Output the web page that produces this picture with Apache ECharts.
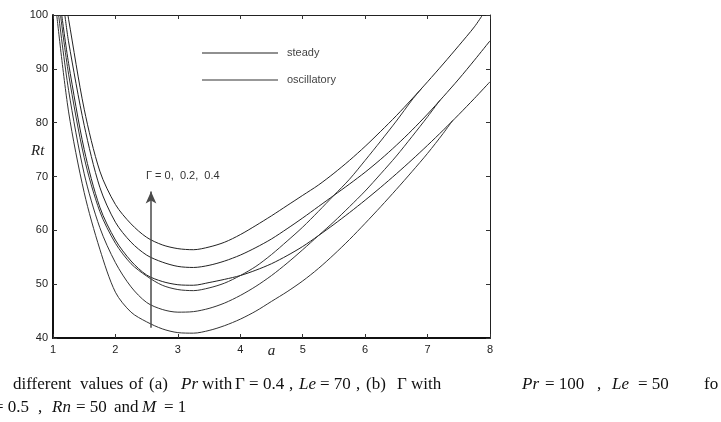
<!DOCTYPE html>
<html>
<head>
<meta charset="utf-8">
<script src="https://cdn.jsdelivr.net/npm/echarts@6/dist/echarts.min.js"></script>
<style>
html, body { margin: 0; padding: 0; background: #fff; }
#chart { width: 721px; height: 422px; }
</style>
</head>
<body>
<div id="chart"></div>
<script>
// wave number a and thermal Rayleigh number Rt
// steady curves (Gamma = 0.4, 0.2, 0)
const steady1 = [[1.24,100],[1.25,99.2],[1.5,82.5],[1.75,71],[2,64.8],[2.25,61.2],[2.5,58.7],[2.75,57.3],[3,56.6],[3.25,56.4],[3.5,56.9],[3.75,57.8],[4,59.2],[4.25,60.9],[4.5,62.7],[4.75,64.6],[5,66.5],[5.25,68.4],[5.5,70.6],[5.75,73],[6,75.6],[6.25,78.4],[6.5,81.3],[6.75,84.4],[7,87.6],[7.25,90.9],[7.5,94.3],[7.75,97.8],[7.88,100]];
const steady2 = [[1.19,100],[1.25,95],[1.5,79.5],[1.75,68],[2,61.5],[2.25,57.8],[2.5,55.4],[2.75,54.1],[3,53.3],[3.25,53.1],[3.5,53.5],[3.75,54.3],[4,55.4],[4.25,56.8],[4.5,58.4],[4.75,60.3],[5,62.3],[5.25,64.4],[5.5,66.5],[5.75,68.6],[6,70.8],[6.25,73.2],[6.5,75.8],[6.75,78.6],[7,81.6],[7.25,84.8],[7.5,88.1],[7.75,91.6],[8,95.2]];
const steady3 = [[1.14,100],[1.25,91],[1.5,75],[1.75,64.3],[2,58.2],[2.25,54.3],[2.5,51.7],[2.75,50.5],[3,49.9],[3.25,49.8],[3.5,50.3],[3.75,50.9],[4,51.6],[4.25,52.6],[4.5,53.8],[4.75,55.3],[5,57],[5.25,59],[5.5,61.1],[5.75,63.3],[6,65.6],[6.25,68],[6.5,70.5],[6.75,73.1],[7,75.8],[7.25,78.6],[7.5,81.5],[7.75,84.5],[8,87.6]];
// oscillatory curves
const osc1 = [[1.12,100],[1.25,89],[1.5,73.5],[1.75,63.5],[2,57.6],[2.25,53.8],[2.5,51.5],[2.75,49.8],[3,49],[3.25,48.8],[3.5,49.3],[3.75,50.2],[4,51.6],[4.25,53.3],[4.5,55.5],[4.75,58],[5,60.6],[5.25,63.5],[5.5,66.5],[5.75,69.5],[6,73],[6.25,76.6],[6.5,80.3],[6.75,84.2],[6.9,86.3]];
const osc2 = [[1.09,100],[1.25,86],[1.5,70.5],[1.75,60.5],[2,54],[2.25,49.5],[2.5,46.6],[2.75,45.3],[3,44.8],[3.25,44.9],[3.5,45.5],[3.75,46.5],[4,47.9],[4.25,49.6],[4.5,51.6],[4.75,53.9],[5,56.4],[5.25,59],[5.5,61.6],[5.75,64.4],[6,67.3],[6.25,70.5],[6.5,73.8],[6.75,77.4],[7,81.1],[7.2,84.2]];
const osc3 = [[1.06,100],[1.25,82],[1.5,67],[1.75,56.5],[2,48.5],[2.25,44.8],[2.5,43],[2.75,41.7],[3,41],[3.25,40.9],[3.5,41.4],[3.75,42.3],[4,43.5],[4.25,45],[4.5,46.8],[4.75,48.6],[5,50.6],[5.25,52.9],[5.5,55.5],[5.75,58.3],[6,61.3],[6.25,64.4],[6.5,67.6],[6.75,70.9],[7,74.3],[7.25,78],[7.4,80.4]];

const xTicks = [1, 2, 3, 4, 5, 6, 7, 8];
const yTicks = [40, 50, 60, 70, 80, 90, 100];
const arrowPts = [[2.57, 41.9], [2.57, 67.2]];

const myChart = echarts.init(document.getElementById('chart'));

function curve(name, data, color) {
    return {
        name: name,
        type: 'line',
        data: data,
        symbol: 'none',
        smooth: 0.3,
        clip: true,
        lineStyle: { color: color, width: 1 },
        itemStyle: { color: color }
    };
}

const series = [
    curve('steady', steady1, '#222'),
    curve('steady', steady2, '#222'),
    curve('steady', steady3, '#222'),
    curve('oscillatory', osc1, '#333'),
    curve('oscillatory', osc2, '#333'),
    curve('oscillatory', osc3, '#333')
];
// arrow showing increasing Gamma
series[0].markLine = {
    silent: true,
    symbol: ['none', 'arrow'],
    symbolSize: [8, 12],
    label: { show: false },
    lineStyle: { color: '#4a4a4a', width: 1.5, type: 'solid' },
    data: [[{ coord: arrowPts[0] }, { coord: arrowPts[1] }]]
};

const serif = '"Liberation Serif", "Times New Roman", serif';
function cap(text, left, top, italic) {
    return {
        type: 'text', left: left, top: top,
        style: { text: text, font: (italic ? 'italic ' : '') + '17px ' + serif, fill: '#111' }
    };
}

const option = {
    animation: false,
    backgroundColor: '#fff',
    textStyle: { fontFamily: 'Liberation Sans, Arial' },
    grid: { left: 53, top: 15, right: 231, bottom: 84 },
    legend: {
        data: [{ name: 'steady', icon: 'rect' }, { name: 'oscillatory', icon: 'rect' }],
        orient: 'vertical',
        left: 197,
        top: 42,
        itemWidth: 76,
        itemHeight: 1,
        itemGap: 15,
        selectedMode: false,
        textStyle: { fontSize: 11, color: '#444', padding: [0, 0, 0, 4], lineHeight: 12 }
    },
    xAxis: [{
        type: 'value',
        min: 1, max: 8, interval: 1,
        name: 'a',
        nameLocation: 'middle',
        nameGap: 6,
        nameMoveOverlap: false,
        nameTextStyle: { fontFamily: 'Liberation Serif', fontStyle: 'italic', fontSize: 15, color: '#222' },
        axisLine: { show: true, lineStyle: { color: '#111', width: 2 } },
        axisTick: { inside: true, length: 4, lineStyle: { color: '#333' } },
        axisLabel: { fontSize: 11, color: '#222', margin: 6 },
        splitLine: { show: false }
    }, {
        type: 'value',
        position: 'top',
        min: 1, max: 8, interval: 1,
        axisLine: { show: true, lineStyle: { color: '#222', width: 1 } },
        axisTick: { inside: true, length: 4, lineStyle: { color: '#333' } },
        axisLabel: { show: false },
        splitLine: { show: false }
    }],
    yAxis: [{
        type: 'value',
        min: 40, max: 100, interval: 10,
        axisLine: { show: true, lineStyle: { color: '#111', width: 2 } },
        axisTick: { inside: true, length: 4, lineStyle: { color: '#333' } },
        axisLabel: { fontSize: 11, color: '#222', margin: 5 },
        splitLine: { show: false }
    }, {
        type: 'value',
        position: 'right',
        min: 40, max: 100, interval: 10,
        axisLine: { show: true, lineStyle: { color: '#222', width: 1 } },
        axisTick: { inside: true, length: 4, lineStyle: { color: '#333' } },
        axisLabel: { show: false },
        splitLine: { show: false }
    }],
    graphic: [
        {
            type: 'text', left: 31, top: 144,
            style: { text: 'Rt', font: 'italic 15px "Liberation Serif"', fill: '#222' }
        },
        {
            type: 'text', left: 146, top: 170,
            style: { text: 'Γ = 0,  0.2,  0.4', font: '11px "Liberation Sans"', fill: '#333' }
        },
        // caption, first line
        cap('different', 13, 376), cap('values', 80, 376), cap('of', 129, 376), cap('(a)', 149, 376),
        cap('Pr', 181, 376, true), cap('with', 202, 376), cap('Γ = 0.4', 235, 376), cap(',', 289, 376),
        cap('Le', 299, 376, true), cap('= 70', 320, 376), cap(',', 356, 376),
        cap('(b)', 366, 376), cap('Γ with', 397, 376),
        cap('Pr', 522, 376, true), cap('= 100', 545, 376), cap(',', 597, 376),
        cap('Le', 612, 376, true), cap('= 50', 638, 376), cap('fo', 704, 376),
        // caption, second line
        cap('= 0.5', -6, 399), cap(',', 38, 399), cap('Rn', 52, 399, true), cap('= 50', 76, 399),
        cap('and', 114, 399), cap('M', 142, 399, true), cap('= 1', 164, 399)
    ],
    series: series
};

myChart.setOption(option);
</script>
</body>
</html>
